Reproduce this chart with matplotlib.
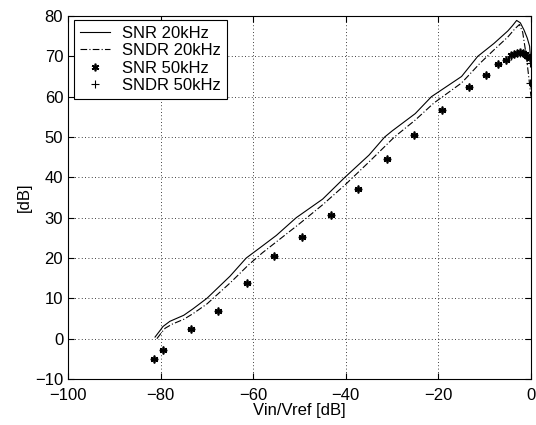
import matplotlib
matplotlib.use("Agg")
import matplotlib.pyplot as plt

plt.rcParams['font.family'] = ['Liberation Sans', 'DejaVu Sans']

# SNR 20kHz (solid)
snr20_x = [-81.2, -80.0, -79.5, -78.0, -75.0, -73.0, -70.0, -65.0, -61.5, -58.0,
           -55.0, -50.7, -45.0, -40.2, -35.0, -31.6, -30.0, -25.0, -21.5, -15.0,
           -11.5, -8.0, -5.0, -4.0, -3.1, -2.3, -1.5, -0.8, -0.3, 0.0]
snr20_y = [0.4, 2.2, 3.0, 4.3, 5.8, 7.4, 10.0, 15.5, 20.0, 23.0,
           25.6, 30.0, 34.6, 40.0, 45.5, 50.0, 51.5, 55.8, 60.0, 65.0,
           70.0, 73.2, 76.3, 77.6, 78.9, 78.3, 76.5, 74.5, 72.5, 68.0]

# SNDR 20kHz (dash-dot)
sndr20_x = [-80.8, -79.6, -79.0, -77.5, -75.0, -73.0, -70.0, -65.0, -61.0, -58.0,
            -55.0, -50.0, -45.0, -40.0, -35.0, -31.0, -29.5, -25.0, -21.0, -15.0,
            -11.0, -8.0, -5.0, -3.5, -2.5, -1.8, -1.0, -0.5, 0.0]
sndr20_y = [0.0, 1.8, 2.6, 3.6, 4.8, 6.2, 8.6, 13.8, 18.3, 21.3,
            24.0, 28.5, 33.2, 38.3, 43.8, 48.3, 50.0, 54.2, 58.4, 63.4,
            68.3, 71.6, 74.8, 76.8, 77.9, 76.0, 70.0, 65.0, 60.0]

# SNR 50kHz (asterisks)
snr50_x = [-81.4, -79.4, -73.5, -67.6, -61.4, -55.6, -49.5, -43.3, -37.3, -31.2,
           -25.3, -19.3, -13.3, -9.8, -7.2, -5.4, -4.3, -3.6, -3.0, -2.4,
           -1.8, -1.3, -0.8, -0.3]
snr50_y = [-5.0, -2.9, 2.5, 6.9, 13.8, 20.4, 25.1, 30.6, 37.1, 44.6,
           50.6, 56.6, 62.5, 65.3, 68.0, 69.2, 70.3, 70.7, 70.9, 71.0,
           70.9, 70.6, 70.2, 69.5]

# SNDR 50kHz (plus)
sndr50_x = [-81.4, -79.4, -73.5, -67.6, -61.4, -55.6, -49.5, -43.3, -37.3, -31.2,
            -25.3, -19.3, -13.3, -9.8, -7.2, -5.4, -4.3, -3.6, -3.0, -2.4,
            -1.8, -1.3, -0.8, -0.3, -0.15]
sndr50_y = [-5.0, -2.9, 2.5, 6.9, 13.8, 20.4, 25.1, 30.6, 37.1, 44.6,
            50.6, 56.6, 62.5, 65.3, 68.0, 69.2, 70.2, 70.6, 70.8, 70.9,
            70.8, 70.4, 69.8, 68.4, 63.4]

labels = ['SNR 20kHz', 'SNDR 20kHz', 'SNR 50kHz', 'SNDR 50kHz']
xticks = [-100, -80, -60, -40, -20, 0]
yticks = [-10, 0, 10, 20, 30, 40, 50, 60, 70, 80]

fig = plt.figure(figsize=(5.36, 4.25), dpi=100)
ax = fig.add_axes([68/536, 46/425, 463/536, 363/425])

ax.plot(snr20_x, snr20_y, color='black', lw=0.8, label=labels[0])
ax.plot(sndr20_x, sndr20_y, color='black', lw=0.8, linestyle=(0, (6, 2, 1, 2)), label=labels[1])
ax.plot(snr50_x, snr50_y, linestyle='none', marker=(6, 2, 0), markersize=5.5,
        mew=1.2, color='black', label=labels[2])
ax.plot(sndr50_x, sndr50_y, linestyle='none', marker='+', markersize=6,
        mew=0.8, color='black', label=labels[3])

ax.set_xlim(-100, 0)
ax.set_ylim(-10, 80)
ax.set_xticks(xticks)
ax.set_yticks(yticks)
ax.tick_params(direction='in', top=True, right=True, labelsize=12, length=4, width=0.8)
ax.tick_params(axis='x', pad=6.5)
ax.grid(True, color='black', linestyle=(0, (1, 3)), linewidth=0.6)
for s in ax.spines.values():
    s.set_linewidth(0.8)

ax.set_xlabel('Vin/Vref [dB]', fontsize=12, labelpad=0)
ax.set_ylabel('[dB]', fontsize=12, labelpad=2)

leg = ax.legend(loc='upper left', bbox_to_anchor=(0.013, 0.989), borderaxespad=0,
                fontsize=12, frameon=True, fancybox=False, edgecolor='black',
                framealpha=1, handlelength=1.8, handletextpad=0.75,
                labelspacing=0.15, borderpad=0.35)
leg.get_frame().set_linewidth(0.8)

fig.savefig('out.png', dpi=100)
